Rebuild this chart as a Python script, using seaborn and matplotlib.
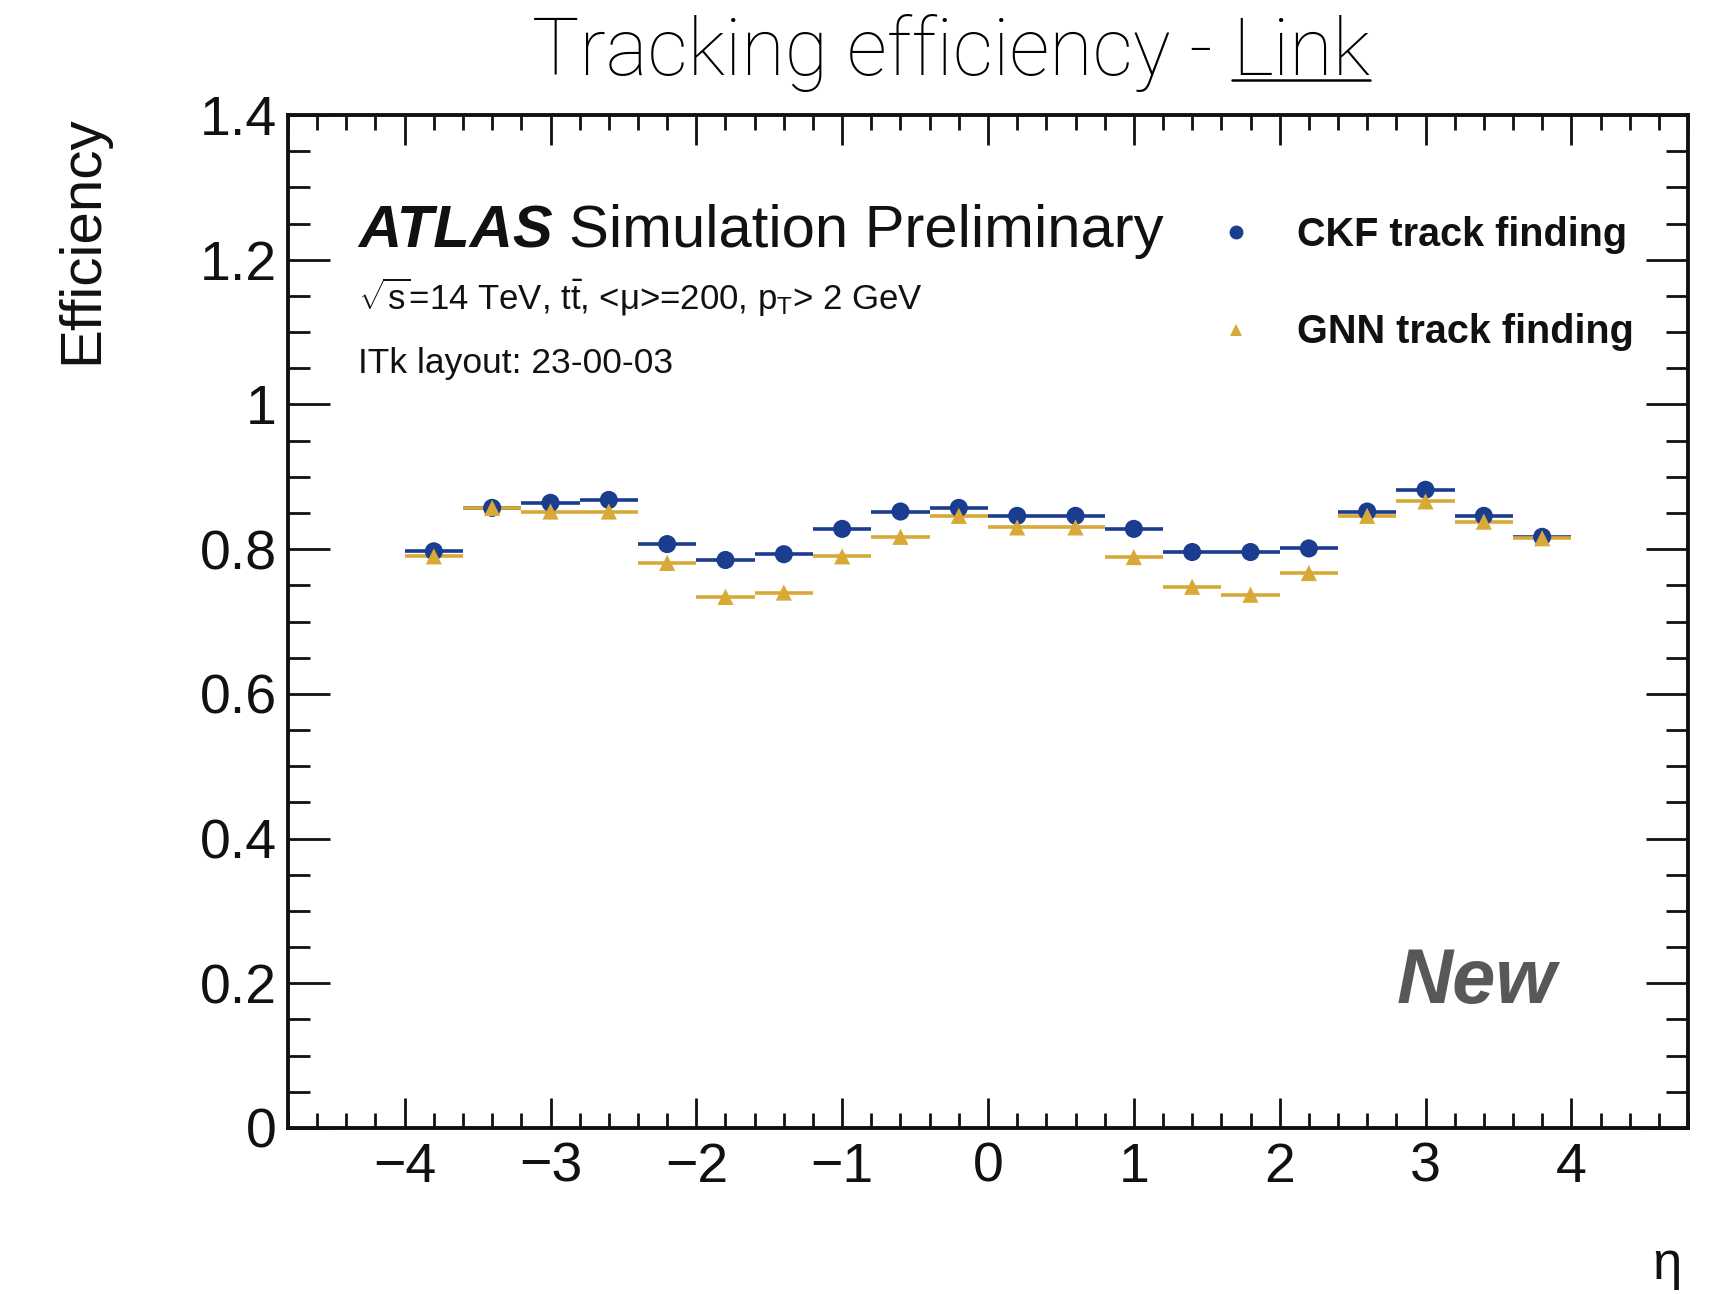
import numpy as np
import pandas as pd
import matplotlib
matplotlib.use("Agg")
import matplotlib.pyplot as plt
import seaborn as sns
from matplotlib.lines import Line2D
from matplotlib.ticker import FixedLocator, FixedFormatter, MultipleLocator

# ---------------- data ----------------
eta_centers = [-3.8, -3.4, -3.0, -2.6, -2.2, -1.8, -1.4, -1.0, -0.6, -0.2,
               0.2, 0.6, 1.0, 1.4, 1.8, 2.2, 2.6, 3.0, 3.4, 3.8]
eta_half_width = [0.2] * 20
ckf_eff = [0.797, 0.857, 0.864, 0.868, 0.807, 0.785, 0.793, 0.828, 0.852, 0.857,
           0.846, 0.846, 0.828, 0.796, 0.796, 0.801, 0.852, 0.882, 0.846, 0.817]
gnn_eff = [0.790, 0.857, 0.852, 0.852, 0.781, 0.734, 0.740, 0.790, 0.817, 0.846,
           0.830, 0.830, 0.789, 0.748, 0.737, 0.767, 0.846, 0.866, 0.838, 0.815]
series_names = ["CKF track finding", "GNN track finding"]
ytick_values = [0, 0.2, 0.4, 0.6, 0.8, 1.0, 1.2, 1.4]
ytick_labels = ["0", "0.2", "0.4", "0.6", "0.8", "1", "1.2", "1.4"]
xtick_values = [-4, -3, -2, -1, 0, 1, 2, 3, 4]

BLUE = "#1b3d8f"
GOLD = "#d8a936"
INK = "#111111"

sns.set_theme(style="ticks")
plt.rcParams["font.family"] = ["Liberation Sans", "DejaVu Sans"]
plt.rcParams["mathtext.fontset"] = "custom"
plt.rcParams["mathtext.rm"] = "Liberation Sans"
plt.rcParams["mathtext.it"] = "Liberation Sans:italic"
plt.rcParams["mathtext.bf"] = "Liberation Sans:bold"
plt.rcParams["mathtext.default"] = "regular"
plt.rcParams["text.color"] = INK
plt.rcParams["xtick.color"] = INK
plt.rcParams["ytick.color"] = INK
plt.rcParams["xtick.labelcolor"] = INK
plt.rcParams["ytick.labelcolor"] = INK

W, H = 1722, 1294
fig = plt.figure(figsize=(W / 100, H / 100), dpi=100)
fig.patch.set_facecolor("white")

ax_l, ax_r, ax_top, ax_bot = 288, 1688, 115, 1128
ax = fig.add_axes([ax_l / W, 1 - ax_bot / H, (ax_r - ax_l) / W, (ax_bot - ax_top) / H])
ax.set_facecolor("white")

df = pd.DataFrame({
    "eta": eta_centers * 2,
    "xerr": eta_half_width * 2,
    "eff": ckf_eff + gnn_eff,
    "method": [series_names[0]] * len(eta_centers) + [series_names[1]] * len(eta_centers),
})

# horizontal bin-width bars + markers
for name, col in zip(series_names, [BLUE, GOLD]):
    sub = df[df["method"] == name]
    ax.errorbar(sub["eta"], sub["eff"], xerr=sub["xerr"], fmt="none",
                ecolor=col, elinewidth=2.6, capsize=0, zorder=3)
    sns.scatterplot(data=sub, x="eta", y="eff", ax=ax, color=col,
                    marker="o" if name == series_names[0] else "^",
                    s=170 if name == series_names[0] else 135,
                    edgecolor="none", linewidth=0, legend=False, zorder=4)

ax.set_xlim(-4.8, 4.8)
ax.set_ylim(0, 1.4)
ax.set_xlabel("")
ax.set_ylabel("")

ax.xaxis.set_major_locator(FixedLocator(xtick_values))
ax.xaxis.set_minor_locator(MultipleLocator(0.2))
ax.yaxis.set_major_locator(FixedLocator(ytick_values))
ax.yaxis.set_major_formatter(FixedFormatter(ytick_labels))
ax.yaxis.set_minor_locator(MultipleLocator(0.05))

ax.tick_params(which="both", direction="in", top=True, right=True, color=INK, width=2.0)
ax.tick_params(axis="x", which="major", length=21.5, labelsize=40, pad=10)
ax.tick_params(axis="x", which="minor", length=11)
ax.tick_params(axis="y", which="major", length=30, labelsize=40, pad=8)
ax.tick_params(axis="y", which="minor", length=15.5)
for sp in ax.spines.values():
    sp.set_linewidth(2.8)
    sp.set_color(INK)
    sp.set_visible(True)

# axis titles (ROOT style)
fig.text(82 / W, 1 - 115 / H, "Efficiency", rotation=90, ha="center", va="top", fontsize=42)
fig.text(1682 / W, 1 - 1279 / H, "η", ha="right", va="baseline", fontsize=38)

# ATLAS label
t_atlas = fig.text(358 / W, 1 - 247 / H, "ATLAS", fontsize=43, fontweight="bold",
                   fontstyle="italic", ha="left", va="baseline")
ax.annotate("Simulation Preliminary", xy=(1, 0), xycoords=t_atlas, xytext=(12, 0),
            textcoords="offset points", fontsize=43, ha="left", va="bottom",
            annotation_clip=False)
fig.text(358 / W, 1 - 310 / H,
         r"$\sqrt{s}$=14 TeV, $t\bar{t}$, <$\mu$>=200, $p_{T}$> 2 GeV",
         fontsize=25, ha="left", va="baseline")
fig.text(358 / W, 1 - 373 / H, "ITk layout: 23-00-03", fontsize=25.5, ha="left", va="baseline")

fig.text(1397 / W, 1 - 1003 / H, "New", fontsize=56, fontweight="bold", fontstyle="italic",
         color="#585858", ha="left", va="baseline")

# legend
handles = [Line2D([], [], marker="o", ls="none", color=BLUE, markersize=10, markeredgewidth=0),
           Line2D([], [], marker="^", ls="none", color=GOLD, markersize=9, markeredgewidth=0)]
ax.legend(handles, series_names, loc="upper left",
          bbox_to_anchor=((1220 - ax_l) / (ax_r - ax_l), (ax_bot - 216) / (ax_bot - ax_top)),
          frameon=False, borderpad=0, borderaxespad=0, handlelength=0.8, handletextpad=1.15,
          labelspacing=1.5, prop={"family": "Liberation Sans", "weight": "bold", "size": 28.5})

# page title with underlined "Link"
split_x = 1232 / W
ty = 1 - 75 / H
title_font = dict(fontsize=57, family=["Roboto", "DejaVu Sans"], fontweight="light", color="black")
fig.text(split_x, ty, "Tracking efficiency - ", ha="right", va="baseline", **title_font)
t_link = fig.text(split_x, ty, "Link", ha="left", va="baseline", **title_font)
fig.canvas.draw()
bb = t_link.get_window_extent().transformed(fig.transFigure.inverted())
uy = 1 - 80 / H
fig.add_artist(Line2D([bb.x0, bb.x1], [uy, uy], transform=fig.transFigure,
                      color="black", linewidth=1.8))

fig.savefig("out.png", dpi=100, facecolor="white")
